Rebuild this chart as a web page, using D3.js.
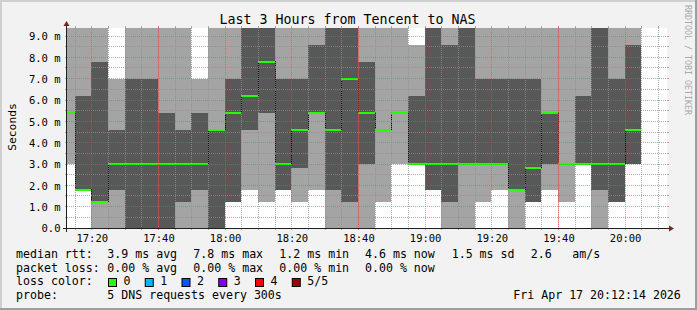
<!DOCTYPE html>
<html>
<head>
<meta charset="utf-8">
<script src="https://cdn.jsdelivr.net/npm/d3@7"></script>
<style>
  html, body { margin: 0; padding: 0; background: #f2f2f2; }
  svg { display: block; }
  text { font-family: 'DejaVu Sans Mono', monospace; fill: #000; }
</style>
</head>
<body>
<svg id="chart"></svg>
<script>
'use strict';
// end of each 5 minute step, and the 5 sorted pings of that step (ms)
// 10.0 = beyond the top of the graph
var times = ['17:15', '17:20', '17:25', '17:30', '17:35', '17:40', '17:45', '17:50', '17:55',
  '18:00', '18:05', '18:10', '18:15', '18:20', '18:25', '18:30', '18:35', '18:40', '18:45',
  '18:50', '18:55', '19:00', '19:05', '19:10', '19:15', '19:20', '19:25', '19:30', '19:35',
  '19:40', '19:45', '19:50', '19:55', '20:00', '20:05'];
var pingMin = [3.0, 1.8, 0, 0, 0, 0, 0, 0, 0, 0, 1.2, 1.8, 1.2, 1.8, 1.2, 1.8, 0, 0, 0,
  1.2, 3.0, 3.0, 1.8, 0, 0, 1.2, 1.8, 0, 1.2, 1.8, 1.2, 3.0, 0, 1.2, 3.0];
var ping2 = [5.4, 1.8, 1.2, 1.8, 0, 0, 0, 1.2, 1.8, 0, 1.2, 4.6, 5.4, 1.8, 2.8, 5.4, 1.8, 1.2, 3.0,
  4.6, 5.4, 3.0, 1.8, 1.2, 3.0, 3.0, 3.0, 1.8, 1.2, 3.0, 3.0, 3.0, 1.8, 1.2, 3.0];
var median = [5.4, 1.8, 1.2, 3.0, 3.0, 3.0, 3.0, 3.0, 3.0, 4.6, 5.4, 6.2, 7.8, 3.0, 4.6, 5.4, 4.6, 7.0, 5.4,
  4.6, 5.4, 3.0, 3.0, 3.0, 3.0, 3.0, 3.0, 1.8, 2.8, 5.4, 3.0, 3.0, 3.0, 3.0, 4.6];
var ping4 = [5.4, 6.2, 7.8, 4.6, 7.0, 7.0, 5.4, 4.6, 5.4, 4.6, 7.0, 10, 10, 7.0, 7.0, 8.6, 10, 10, 7.8,
  4.6, 5.4, 6.2, 10, 8.6, 10, 7.0, 7.0, 7.0, 7.0, 5.4, 3.0, 6.2, 10, 7.0, 8.6];
var pingMax = [10, 10, 10, 7.0, 10, 10, 10, 10, 7.0, 10, 10, 10, 10, 10, 10, 10, 10, 10, 10,
  10, 10, 8.6, 10, 10, 10, 10, 10, 10, 10, 10, 10, 10, 10, 10, 10];

var yTicks = [0, 1, 2, 3, 4, 5, 6, 7, 8, 9];
var xLabels = ['17:20', '17:40', '18:00', '18:20', '18:40', '19:00', '19:20', '19:40', '20:00'];
var hourLines = ['17:40', '18:40', '19:40'];

var lossLabels = ['0', '1', '2', '3', '4', '5/5'];
var lossColors = ['#26ff00', '#00b8ff', '#0059ff', '#7e00ff', '#ff0000', '#a10000'];

var W = 697, H = 310;
var pL = 67, pR = 667, pT = 28, pB = 228;

var parseHM = d3.timeParse('%H:%M');
var start = d3.timeParse('%H:%M:%S')('17:12:34');
var end = d3.timeParse('%H:%M:%S')('20:12:34');
var step = 5 * 60 * 1000;

var xScale = d3.scaleTime().domain([start, end]).range([pL, pR]);
var yScale = d3.scaleLinear().domain([0, 9.375]).range([pB, pT]).clamp(true);

// whole pixel positions so neighbouring steps leave no gaps
function px(t) { return Math.floor(xScale(t)); }
function py(v) { return Math.round(yScale(v)); }

var svg = d3.select('#chart').attr('width', W).attr('height', H);

// frame
svg.append('rect').attr('width', W).attr('height', H).attr('fill', '#f2f2f2');
svg.append('rect').attr('x', 0).attr('y', 0).attr('width', W).attr('height', 2).attr('fill', '#cfcfcf');
svg.append('rect').attr('x', 0).attr('y', 0).attr('width', 2).attr('height', H).attr('fill', '#cfcfcf');
svg.append('rect').attr('x', 0).attr('y', H - 2).attr('width', W).attr('height', 2).attr('fill', '#9e9e9e');
svg.append('rect').attr('x', W - 2).attr('y', 0).attr('width', 2).attr('height', H).attr('fill', '#9e9e9e');

// canvas
svg.append('rect').attr('x', pL).attr('y', pT).attr('width', pR - pL).attr('height', pB - pT)
  .attr('fill', '#ffffff');

var rows = times.map(function(t, i) {
  var t1 = parseHM(t);
  return {
    t0: new Date(Math.max(+start, +t1 - step)),
    t1: t1,
    min: pingMin[i], p2: ping2[i], med: median[i], p4: ping4[i], max: pingMax[i]
  };
});

var plot = svg.append('g').attr('shape-rendering', 'crispEdges');

// smoke: outer band (min..max) then inner band (p2..p4)
plot.selectAll('rect.outer').data(rows).enter().append('rect')
  .attr('class', 'outer')
  .attr('x', function(d) { return Math.max(pL, px(d.t0)); })
  .attr('width', function(d) { return px(d.t1) - Math.max(pL, px(d.t0)); })
  .attr('y', function(d) { return py(d.max); })
  .attr('height', function(d) { return py(d.min) - py(d.max); })
  .attr('fill', '#a4a4a4');

plot.selectAll('rect.inner').data(rows).enter().append('rect')
  .attr('class', 'inner')
  .attr('x', function(d) { return Math.max(pL, px(d.t0)); })
  .attr('width', function(d) { return px(d.t1) - Math.max(pL, px(d.t0)); })
  .attr('y', function(d) { return py(d.p4); })
  .attr('height', function(d) { return py(d.p2) - py(d.p4); })
  .attr('fill', '#585858');

// median: dark step line under the green bars
var stepPts = rows.map(function(d) { return [Math.max(pL, px(d.t0)) + 0.5, py(d.med) - 0.5]; });
stepPts.push([px(rows[rows.length - 1].t1) - 0.5, py(rows[rows.length - 1].med) - 0.5]);
plot.append('path')
  .attr('d', d3.line().curve(d3.curveStepAfter)(stepPts))
  .attr('fill', 'none')
  .attr('stroke', '#111')
  .attr('stroke-width', 1);

plot.selectAll('rect.med').data(rows).enter().append('rect')
  .attr('class', 'med')
  .attr('x', function(d) { return Math.max(pL, px(d.t0)); })
  .attr('width', function(d) { return px(d.t1) - Math.max(pL, px(d.t0)); })
  .attr('y', function(d) { return py(d.med) - 1; })
  .attr('height', 2)
  .attr('fill', lossColors[0]);

// grid on top
var grid = svg.append('g');
var minorCol = 'rgba(143,143,143,0.75)';
var majorCol = 'rgba(222,79,79,0.6)';

function hLine(v, col) {
  var y = Math.floor(yScale(v)) + 0.5;
  grid.append('line').attr('x1', pL - 2).attr('x2', pL).attr('y1', y).attr('y2', y).attr('stroke', col);
  grid.append('line').attr('x1', pR).attr('x2', pR + 2).attr('y1', y).attr('y2', y).attr('stroke', col);
  grid.append('line').attr('x1', pL).attr('x2', pR).attr('y1', y).attr('y2', y)
    .attr('stroke', col).attr('stroke-dasharray', '1,1');
}
function vLine(t, col, solid) {
  var x = px(t) + 0.5;
  grid.append('line').attr('x1', x).attr('x2', x).attr('y1', pB).attr('y2', pB + 2).attr('stroke', col);
  grid.append('line').attr('x1', x).attr('x2', x).attr('y1', pT - 2).attr('y2', pT).attr('stroke', col);
  grid.append('line').attr('x1', x).attr('x2', x).attr('y1', pT).attr('y2', pB)
    .attr('stroke', col).attr('stroke-dasharray', solid ? null : '1,1');
}

d3.range(0.5, 9.375, 0.5).forEach(function(v) {
  if (yTicks.indexOf(v) < 0) hLine(v, minorCol);
});
yTicks.slice(1).forEach(function(v) { hLine(v, majorCol); });

var labelTimes = xLabels.map(parseHM);
d3.timeMinute.every(5).range(start, end).forEach(function(t) {
  var isMajor = labelTimes.some(function(l) { return +l === +t; });
  if (!isMajor) vLine(t, minorCol, false);
});
labelTimes.forEach(function(t) { vLine(t, majorCol, false); });
hourLines.map(parseHM).forEach(function(t) { vLine(t, 'rgba(222,79,79,0.45)', true); });

// axes
var axisCol = '#1f1f1f';
svg.append('rect').attr('x', pL - 4).attr('y', pB).attr('width', pR - pL + 8).attr('height', 1)
  .attr('fill', axisCol).attr('shape-rendering', 'crispEdges');
svg.append('rect').attr('x', pL - 1).attr('y', pT - 4).attr('width', 1).attr('height', pB - pT + 8)
  .attr('fill', axisCol).attr('shape-rendering', 'crispEdges');
svg.append('path')
  .attr('d', 'M' + (pR + 2) + ',' + (pB - 2.5) + 'L' + (pR + 2) + ',' + (pB + 3.5) +
    'L' + (pR + 7) + ',' + (pB + 0.5) + 'Z')
  .attr('fill', '#801f1f');
svg.append('path')
  .attr('d', 'M' + (pL - 3.5) + ',' + (pT - 2) + 'L' + (pL + 2.5) + ',' + (pT - 2) +
    'L' + (pL - 0.5) + ',' + (pT - 7) + 'Z')
  .attr('fill', '#801f1f');

var yAxis = svg.append('g')
  .attr('transform', 'translate(' + pL + ',0)')
  .call(d3.axisLeft(yScale).tickValues(yTicks).tickSize(0)
    .tickFormat(function(d) { return d === 0 ? '0.0' : d.toFixed(1) + ' m'; }));
yAxis.select('.domain').remove();
yAxis.selectAll('text')
  .attr('x', -6.5).attr('dy', '0.36em')
  .style('font-family', "'DejaVu Sans Mono', monospace").style('font-size', '10.5px').attr('fill', '#000');

var xAxis = svg.append('g')
  .attr('transform', 'translate(0,' + pB + ')')
  .call(d3.axisBottom(xScale).tickValues(labelTimes).tickSize(0).tickFormat(d3.timeFormat('%H:%M')));
xAxis.select('.domain').remove();
xAxis.selectAll('text')
  .attr('y', 13.5).attr('dy', null)
  .style('font-family', "'DejaVu Sans Mono', monospace").style('font-size', '10.5px').attr('fill', '#000');

// title and labels
svg.append('text').attr('x', 347.5).attr('y', 24).attr('text-anchor', 'middle')
  .style('font-size', '13.3px').text('Last 3 Hours from Tencent to NAS');

svg.append('text').attr('transform', 'translate(15.5,127) rotate(-90)').attr('text-anchor', 'middle')
  .style('font-size', '11.3px').text('Seconds');

svg.append('text').attr('transform', 'translate(685,5) rotate(90)')
  .style('font-size', '8.3px').style('fill', '#a9a9a9').text('RRDTOOL / TOBI OETIKER');

// legend
var fs = '11.6px';
function legendText(x, y, s) {
  svg.append('text').attr('x', x).attr('y', y).style('font-size', fs).style('white-space', 'pre').text(s);
}
var cols = [16, 107.3, 193.3, 279.3, 365, 451.7, 530.7, 572.3];
var rowY = [258, 271.5, 285, 298.5];

var rttRow = ['median rtt:', '3.9 ms avg', '7.8 ms max', '1.2 ms min', '4.6 ms now', '1.5 ms sd', '2.6', 'am/s'];
rttRow.forEach(function(s, i) { legendText(cols[i], rowY[0], s); });
var lossRow = ['packet loss:', '0.00 % avg', '0.00 % max', '0.00 % min', '0.00 % now'];
lossRow.forEach(function(s, i) { legendText(cols[i], rowY[1], s); });

legendText(16, rowY[2], 'loss color:');
lossLabels.forEach(function(l, i) {
  var bx = 108.5 + i * 36.75;
  svg.append('rect').attr('x', bx).attr('y', 278.5).attr('width', 8).attr('height', 8)
    .attr('fill', lossColors[i]).attr('stroke', '#000').attr('stroke-width', 1);
  legendText(bx + 15, rowY[2], l);
});

legendText(16, rowY[3], 'probe:');
legendText(107.3, rowY[3], '5 DNS requests every 300s');
legendText(513.3, rowY[3], 'Fri Apr 17 20:12:14 2026');
</script>
</body>
</html>
